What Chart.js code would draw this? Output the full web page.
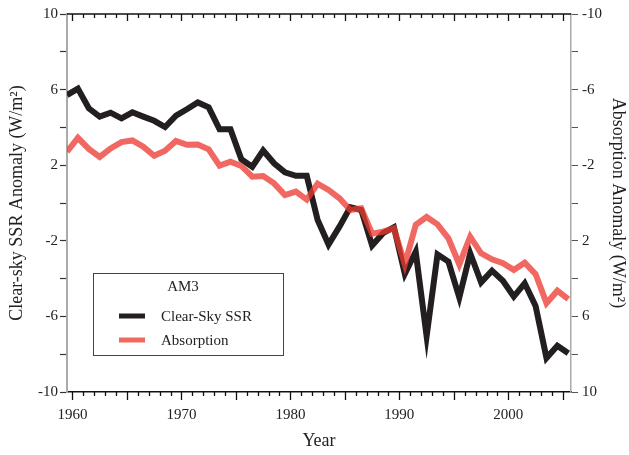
<!DOCTYPE html>
<html>
<head>
<meta charset="utf-8">
<script src="https://cdn.jsdelivr.net/npm/chart.js@4"></script>
<style>
  html, body { margin: 0; padding: 0; background: #fff; }
  #wrap { width: 629px; height: 455px; position: relative; }
</style>
</head>
<body>
<div id="wrap"><canvas id="chart" width="629" height="455"></canvas></div>
<script>
// one value per year, 1959 .. 2005, plotted at mid-year
const years = [1959, 1960, 1961, 1962, 1963, 1964, 1965, 1966, 1967, 1968, 1969,
  1970, 1971, 1972, 1973, 1974, 1975, 1976, 1977, 1978, 1979,
  1980, 1981, 1982, 1983, 1984, 1985, 1986, 1987, 1988, 1989,
  1990, 1991, 1992, 1993, 1994, 1995, 1996, 1997, 1998, 1999,
  2000, 2001, 2002, 2003, 2004, 2005];

// Clear-sky SSR anomaly (left axis, W/m2)
const clearSkySSR = [5.71, 6.05, 5.01, 4.57, 4.78, 4.48, 4.80, 4.57, 4.35, 4.02,
  4.62, 4.96, 5.32, 5.06, 3.90, 3.90, 2.31, 1.92, 2.78, 2.10,
  1.62, 1.44, 1.44, -0.90, -2.20, -1.25, -0.22, -0.37, -2.25, -1.60,
  -1.28, -3.75, -2.58, -7.05, -2.72, -3.10, -5.00, -2.66, -4.20, -3.58,
  -4.11, -4.95, -4.25, -5.45, -8.20, -7.55, -7.95];

// Absorption anomaly (right axis, reversed, W/m2)
const absorption = [-2.71, -3.45, -2.86, -2.44, -2.89, -3.22, -3.31, -2.98, -2.50, -2.77,
  -3.28, -3.08, -3.10, -2.84, -1.98, -2.19, -1.96, -1.39, -1.43, -1.04,
  -0.42, -0.60, -0.18, -1.02, -0.69, -0.25, 0.37, 0.28, 1.62, 1.52,
  1.34, 3.25, 1.16, 0.74, 1.13, 1.87, 3.25, 1.78, 2.66, 2.98,
  3.19, 3.54, 3.16, 3.76, 5.30, 4.64, 5.08];

const xTickYears = [1960, 1970, 1980, 1990, 2000];
const leftTickLabels = [10, 6, 2, -2, -6, -10];
const rightTickLabels = [-10, -6, -2, 2, 6, 10];
const legendTitle = 'AM3';

const serif = '"Liberation Serif", "Times New Roman", serif';
const inkColor = '#231f20';
const redColor = 'rgba(236, 58, 50, 0.77)';

function everyUnit(scale) {
  const ticks = [];
  for (let v = -10; v <= 10; v++) ticks.push({ value: v });
  scale.ticks = ticks;
}

// frame, year ticks and the boxed legend
const framePlugin = {
  id: 'frame',
  afterDraw(chart) {
    const ctx = chart.ctx;
    const a = chart.chartArea;
    const x = chart.scales.x;
    ctx.save();
    ctx.strokeStyle = '#111';
    ctx.lineWidth = 1.5;
    ctx.beginPath();
    ctx.moveTo(a.left, a.top);
    ctx.lineTo(a.right, a.top);
    ctx.stroke();
    ctx.lineWidth = 1.3;
    for (let yr = 1960; yr <= 2005; yr++) {
      const px = Math.round(x.getPixelForValue(yr)) + 0.5;
      const major = yr % 5 === 0;
      ctx.beginPath();
      ctx.moveTo(px, a.bottom);
      ctx.lineTo(px, a.bottom + (major ? 8 : 4));
      ctx.moveTo(px, a.top);
      ctx.lineTo(px, a.top + (major ? 7 : 4));
      ctx.stroke();
    }

    // legend
    const ds = chart.data.datasets;
    ctx.strokeStyle = '#444';
    ctx.lineWidth = 1;
    ctx.strokeRect(93.5, 273.5, 190, 82);
    ctx.fillStyle = '#222';
    ctx.font = '15px ' + serif;
    ctx.textBaseline = 'middle';
    ctx.textAlign = 'center';
    ctx.fillText(legendTitle, 183, 287);
    ctx.textAlign = 'left';
    const rows = [316, 340];
    ds.forEach(d => {
      const y = rows[d.legendRow];
      ctx.strokeStyle = d.legendColor;
      ctx.lineWidth = 5;
      ctx.beginPath();
      ctx.moveTo(119, y);
      ctx.lineTo(145, y);
      ctx.stroke();
      ctx.fillStyle = '#222';
      ctx.fillText(d.label, 161, y + 1);
    });
    ctx.restore();
  }
};

new Chart(document.getElementById('chart'), {
  type: 'line',
  data: {
    datasets: [
      {
        label: 'Clear-Sky SSR',
        data: years.map((y, i) => ({ x: y + 0.5, y: clearSkySSR[i] })),
        yAxisID: 'y',
        borderColor: inkColor,
        legendColor: inkColor,
        legendRow: 0,
        borderWidth: 6,
        pointRadius: 0,
        tension: 0,
        order: 2
      },
      {
        label: 'Absorption',
        data: years.map((y, i) => ({ x: y + 0.5, y: absorption[i] })),
        yAxisID: 'y2',
        borderColor: redColor,
        legendColor: '#f06a5e',
        legendRow: 1,
        borderWidth: 6,
        pointRadius: 0,
        tension: 0,
        order: 1
      }
    ]
  },
  options: {
    responsive: false,
    animation: false,
    layout: { padding: { top: 14, left: 0, right: 0, bottom: 0 } },
    plugins: { legend: { display: false }, tooltip: { enabled: false } },
    scales: {
      x: {
        type: 'linear',
        min: 1959.5,
        max: 2005.75,
        afterBuildTicks: s => { s.ticks = xTickYears.map(v => ({ value: v })); },
        afterFit: s => { s.height = 63; },
        grid: { display: false },
        border: { display: true, color: '#111', width: 1.5 },
        ticks: {
          color: '#222',
          font: { family: serif, size: 15 },
          padding: 6,
          maxRotation: 0,
          callback: v => String(v)
        },
        title: {
          display: true,
          text: 'Year',
          color: '#222',
          font: { family: serif, size: 18 },
          padding: { top: 0, bottom: 3 }
        }
      },
      y: {
        position: 'left',
        min: -10,
        max: 10,
        afterBuildTicks: everyUnit,
        afterFit: s => { s.width = 67; },
        grid: { drawOnChartArea: false, tickLength: 7, tickColor: '#333', tickWidth: 1.2 },
        border: { display: true, color: '#aaa', width: 2 },
        ticks: {
          color: '#222',
          font: { family: serif, size: 15 },
          padding: 2,
          callback: v => leftTickLabels.includes(v) ? String(v) : ''
        },
        title: {
          display: true,
          text: 'Clear-sky SSR Anomaly (W/m²)',
          color: '#222',
          font: { family: serif, size: 18 },
          padding: { top: 6, bottom: 0 }
        }
      },
      y2: {
        position: 'right',
        reverse: true,
        min: -10,
        max: 10,
        afterBuildTicks: everyUnit,
        afterFit: s => { s.width = 58; },
        grid: { drawOnChartArea: false, tickLength: 7, tickColor: '#555', tickWidth: 1 },
        border: { display: true, color: '#aaa', width: 1.5 },
        ticks: {
          color: '#222',
          font: { family: serif, size: 15 },
          padding: 4,
          callback: v => rightTickLabels.includes(v) ? String(v) : ''
        },
        title: {
          display: true,
          text: 'Absorption Anomaly (W/m²)',
          color: '#222',
          font: { family: serif, size: 18 },
          padding: { top: 0, bottom: 0 }
        }
      }
    }
  },
  plugins: [framePlugin]
});
</script>
</body>
</html>
